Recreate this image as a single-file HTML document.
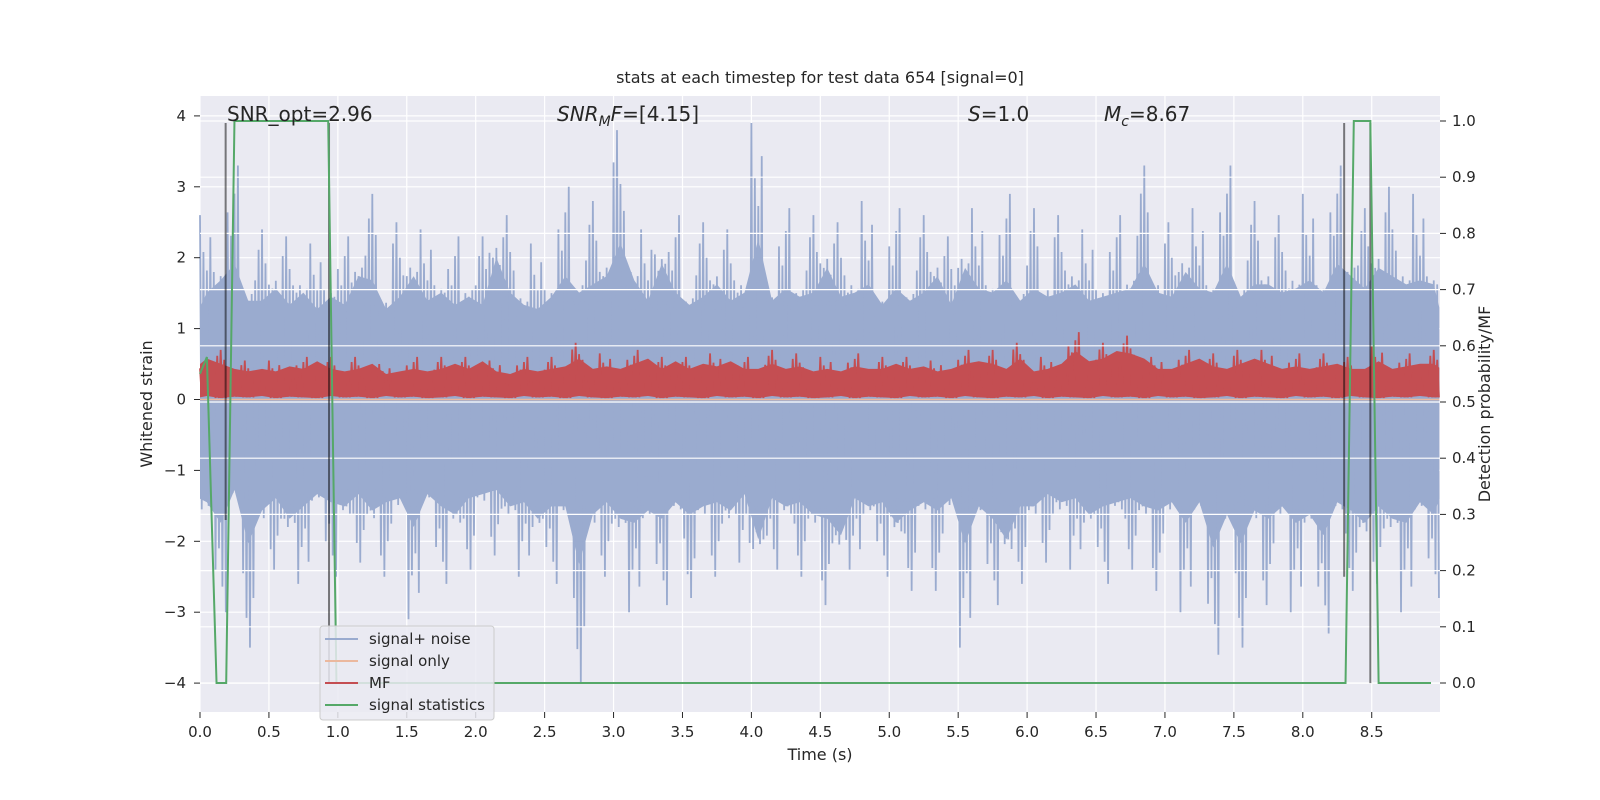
<!DOCTYPE html>
<html><head><meta charset="utf-8"><style>
html,body{margin:0;padding:0;background:#fff;}
svg{display:block;font-family:"DejaVu Sans","Liberation Sans",sans-serif;}
</style></head><body>
<svg id="chart" width="1600" height="800" viewBox="0 0 1600 800">
<rect x="200" y="96" width="1240" height="616" fill="#eaeaf2"/>
<g id="gridL"></g><g id="data"></g><g id="gridR"></g><g id="overlay"></g><g id="axes"></g>
<text x="820" y="83" font-size="16" text-anchor="middle" fill="#262626">stats at each timestep for test data 654 [signal=0]</text>
<text x="227" y="121" font-size="20" fill="#262626">SNR_opt=2.96</text>
<text x="557" y="121" font-size="20" fill="#262626"><tspan font-style="italic">SNR</tspan><tspan font-style="italic" font-size="14" dy="5">M</tspan><tspan font-style="italic" dy="-5">F</tspan>=[4.15]</text>
<text x="968" y="121" font-size="20" fill="#262626"><tspan font-style="italic">S</tspan>=1.0</text>
<text x="1104" y="121" font-size="20" fill="#262626"><tspan font-style="italic">M</tspan><tspan font-style="italic" font-size="14" dy="5">c</tspan><tspan dy="-5">=8.67</tspan></text>
<text x="820" y="760" font-size="16" text-anchor="middle" fill="#262626">Time (s)</text>
<text x="0" y="0" font-size="16" text-anchor="middle" fill="#262626" transform="translate(152,404) rotate(-90)">Whitened strain</text>
<text x="0" y="0" font-size="16" text-anchor="middle" fill="#262626" transform="translate(1490,404) rotate(-90)">Detection probability/MF</text>
<g>
<rect x="320" y="626" width="174" height="94" rx="3" fill="#eaeaf2" fill-opacity="0.85" stroke="#cccccc"/>
<line x1="325" y1="639" x2="358" y2="639" stroke="#9aabcf" stroke-width="2"/>
<text x="369" y="644" font-size="15" fill="#262626">signal+ noise</text>
<line x1="325" y1="661" x2="358" y2="661" stroke="#ebb89e" stroke-width="2"/>
<text x="369" y="666" font-size="15" fill="#262626">signal only</text>
<line x1="325" y1="683" x2="358" y2="683" stroke="#c44e52" stroke-width="2"/>
<text x="369" y="688" font-size="15" fill="#262626">MF</text>
<line x1="325" y1="705" x2="358" y2="705" stroke="#55a868" stroke-width="2"/>
<text x="369" y="710" font-size="15" fill="#262626">signal statistics</text>
</g>
</svg>
<script>
const xTicks=[0,0.5,1,1.5,2,2.5,3,3.5,4,4.5,5,5.5,6,6.5,7,7.5,8,8.5];
const yTicksL=[-4,-3,-2,-1,0,1,2,3,4];
const yTicksR=[0,0.1,0.2,0.3,0.4,0.5,0.6,0.7,0.8,0.9,1.0];
const noiseHi=[2.6,2.9,3.3,2.4,2.4,2.7,2.3,2.6,2.2,2.5,2.3,3.0,2.9,2.2,2.5,3.0,2.4,2.6,2.3,2.5,2.3,3.45,2.6,2.3,2.2,2.5,3.0,2.6,2.8,3.0,3.8,2.9,2.4,3.3,2.6,2.3,2.5,2.8,2.4,2.6,3.9,2.4,2.7,2.5,2.6,3.2,2.5,2.6,2.8,2.3,2.7,2.4,2.6,3.0,2.3,3.2,2.7,2.6,2.9,2.4,2.7,2.5,2.6,2.8,2.4,2.5,2.6,2.7,3.3,2.6,2.5,3.1,2.7,2.6,3.3,2.5,2.8,2.8,2.6,2.7,2.9,2.6,3.3,3.0,2.7,3.2,3.0,2.8,2.9,2.8];
const noiseLo=[-2.5,-3.0,-2.2,-3.5,-2.7,-2.4,-2.9,-2.6,-2.3,-2.5,-2.6,-2.3,-2.7,-2.5,-2.4,-3.1,-2.3,-2.6,-2.8,-2.4,-2.3,-2.2,-2.6,-2.5,-2.9,-2.6,-2.6,-4.0,-2.8,-2.5,-2.9,-3.0,-2.7,-2.9,-2.5,-2.8,-2.6,-2.5,-2.7,-2.3,-3.4,-2.4,-2.6,-2.5,-2.8,-2.9,-3.3,-2.4,-2.6,-2.5,-3.0,-2.7,-2.5,-2.7,-2.4,-3.5,-2.6,-2.9,-3.4,-2.6,-2.6,-2.3,-2.5,-2.4,-2.8,-2.6,-2.5,-2.4,-2.6,-2.7,-2.5,-3.0,-2.5,-3.6,-2.8,-3.5,-2.7,-2.9,-2.6,-3.0,-2.8,-3.3,-2.5,-2.7,-3.0,-2.6,-2.9,-3.0,-2.5,-2.8];
const mfHi=[0.8,0.7,0.6,0.55,0.6,0.55,0.65,0.6,0.75,0.6,0.55,0.6,0.7,0.5,0.55,0.6,0.55,0.6,0.7,0.6,0.75,0.55,0.5,0.6,0.55,0.6,0.65,0.8,0.6,0.65,0.6,0.7,0.8,0.6,0.75,0.6,0.7,0.65,0.75,0.6,0.6,0.7,0.6,0.65,0.55,0.6,0.55,0.65,0.6,0.6,0.7,0.6,0.65,0.55,0.6,0.7,0.75,0.7,0.6,0.8,0.55,0.6,0.7,0.95,0.75,0.8,0.95,0.9,0.8,0.6,0.6,0.7,0.8,0.65,0.6,0.7,0.8,0.7,0.6,0.65,0.6,0.65,0.7,0.6,0.6,0.75,0.6,0.65,0.7,0.7];
const mfLo=[0.05,0.02,0.04,0.03,0.05,0.02,0.04,0.03,0.02,0.05,0.03,0.04,0.02,0.05,0.03,0.04,0.02,0.03,0.05,0.02,0.04,0.03,0.02,0.05,0.03,0.04,0.02,0.05,0.03,0.02,0.04,0.03,0.05,0.02,0.04,0.03,0.02,0.05,0.03,0.04,0.02,0.05,0.03,0.04,0.02,0.03,0.05,0.02,0.04,0.03,0.02,0.05,0.03,0.04,0.02,0.05,0.03,0.02,0.04,0.03,0.05,0.02,0.04,0.03,0.02,0.05,0.03,0.04,0.02,0.05,0.03,0.04,0.02,0.03,0.05,0.02,0.04,0.03,0.02,0.05,0.03,0.04,0.02,0.05,0.03,0.02,0.04,0.03,0.05,0.03];
const statT=[0,0.05,0.12,0.19,0.25,0.93,0.99,8.31,8.37,8.49,8.55,8.93];
const statV=[0.55,0.58,0,0,1,1,0,0,1,1,0,0];
const markerT=[0.186,0.936,8.30,8.49];
const markerTop=[3.9,3.9,3.9,3.9];
const markerBot=[-1.7,-4.0,-2.5,-4.0];
const sampleDt=0.1;

const NS='http://www.w3.org/2000/svg';
const X=t=>200+t*137.85;
const YL=v=>399.5-v*70.9;
const YR=v=>683-v*562;
const sub=[1,0.62,0.8,0.55,0.7,0.6,0.88,0.58];
function mk(tag,parent,attrs){const e=document.createElementNS(NS,tag);for(const k in attrs)e.setAttribute(k,attrs[k]);document.getElementById(parent).appendChild(e);return e;}

xTicks.forEach(t=>{
 const g=mk('line','gridL',{x1:X(t),x2:X(t),y1:96,y2:712,stroke:'#fff','stroke-width':1.2});
 
 
 const tk=mk('line','axes',{x1:X(t),x2:X(t),y1:712,y2:718,stroke:'#262626','stroke-width':1});
 
 
 const lb=mk('text','axes',{x:X(t),y:737,'font-size':15,'text-anchor':'middle',fill:'#262626'});
 lb.textContent=t.toFixed(1);
 
 
});
yTicksL.forEach(v=>{
 const g=mk('line','gridL',{x1:200,x2:1440,y1:YL(v),y2:YL(v),stroke:'#fff','stroke-width':1.2});
 
 
 const tk=mk('line','axes',{x1:194,x2:200,y1:YL(v),y2:YL(v),stroke:'#262626'});
 
 
 const lb=mk('text','axes',{x:186,y:YL(v)+5,'font-size':15,'text-anchor':'end',fill:'#262626'});
 lb.textContent=(v<0?'\u2212'+(-v):String(v));
 
 
});
yTicksR.forEach(v=>{
 const g=mk('line','gridR',{x1:200,x2:1440,y1:YR(v),y2:YR(v),stroke:'#fff','stroke-width':1.2});
 
 
 const tk=mk('line','axes',{x1:1440,x2:1446,y1:YR(v),y2:YR(v),stroke:'#262626'});
 
 
 const lb=mk('text','axes',{x:1452,y:YR(v)+5,'font-size':15,fill:'#262626'});
 lb.textContent=v.toFixed(1);
 
 
});

// noise core band
let up='',dn='';
noiseHi.forEach((v,i)=>{up+=X(i*sampleDt+0.05)+','+YL(v*0.58)+' ';});
for(let i=noiseLo.length-1;i>=0;i--){dn+=X(i*sampleDt+0.05)+','+YL(noiseLo[i]*0.58)+' ';}
const core=mk('polygon','data',{points:X(0)+','+YL(1.3)+' '+up+X(8.99)+','+YL(1.3)+' '+X(8.99)+','+YL(-1.4)+' '+dn+X(0)+','+YL(-1.4),fill:'#9aabcf'});


// noise spikes
let zz='';
noiseHi.forEach((v,i)=>{const t=i*sampleDt;for(let k=0;k<8;k++){const f=sub[(k+i)%8];zz+=X(t+k*0.0125)+','+YL(k%2?noiseLo[i]*f:v*f)+' ';}});
const nl=mk('polyline','data',{points:zz,fill:'none',stroke:'#9aabcf','stroke-width':1.8});


// signal only
const so=mk('line','data',{x1:X(0),x2:X(8.99),y1:YL(0),y2:YL(0),stroke:'#ebb89e','stroke-width':1.5});


// MF
let mu='',md='';
mfHi.forEach((v,i)=>{mu+=X(i*sampleDt+0.05)+','+YL(v*0.72)+' ';});
for(let i=mfLo.length-1;i>=0;i--){md+=X(i*sampleDt+0.05)+','+YL(mfLo[i])+' ';}
const mc=mk('polygon','data',{points:X(0)+','+YL(0.5)+' '+mu+X(8.99)+','+YL(0.45)+' '+X(8.99)+','+YL(0.03)+' '+md+X(0)+','+YL(0.03),fill:'#c44e52'});


let mz='';
mfHi.forEach((v,i)=>{const t=i*sampleDt;for(let k=0;k<8;k++){const f=sub[(k+i+3)%8];mz+=X(t+k*0.0125)+','+YL(k%2?mfLo[i]:v*f)+' ';}});
const ml=mk('polyline','data',{points:mz,fill:'none',stroke:'#c44e52','stroke-width':1.8});


// markers
markerT.forEach((t,i)=>{
 const l=mk('line','overlay',{x1:X(t),x2:X(t),y1:YL(markerTop[i]),y2:YL(markerBot[i]),stroke:'#000','stroke-opacity':0.5,'stroke-width':2});
 
 
});
// stats
const sp=statT.map((t,i)=>X(t)+','+YR(statV[i])).join(' ');
const sl=mk('polyline','overlay',{points:sp,fill:'none',stroke:'#55a868','stroke-width':2});


</script>
</body></html>
